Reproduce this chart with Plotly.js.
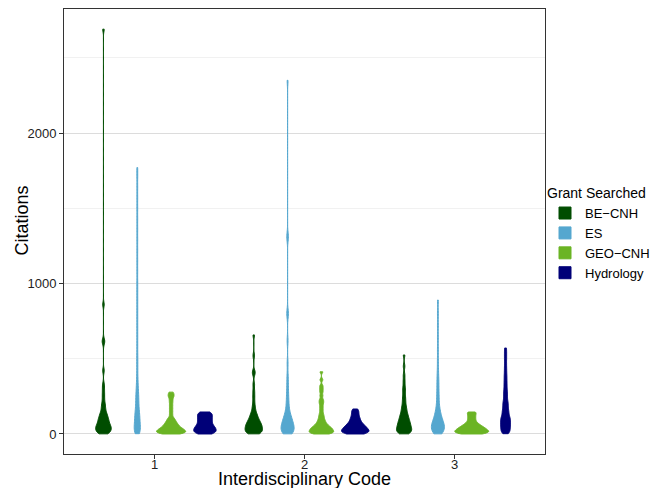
<!DOCTYPE html>
<html>
<head>
<meta charset="utf-8">
<script src="https://cdn.plot.ly/plotly-3.0.1.min.js"></script>
<style>html,body{margin:0;padding:0;background:#fff}#chart{width:667px;height:488px}</style>
</head>
<body>
<div id="chart"></div>
<script>
// ---- data ----
const categories = ['1', '2', '3'];
const grants = ['BE\u2212CNH', 'ES', 'GEO\u2212CNH', 'Hydrology'];
const yTicks = [0, 1000, 2000];
const xTitle = 'Interdisciplinary Code';
const yTitle = 'Citations';

// Citations per paper, Interdisciplinary Code 1
const beCnh1 = [1,5,9,13,17,22,26,30,34,38,42,46,50,54,58,63,69,75,81,87,93,99,104,112,120,128,136,147,162,177,193,212,240,268,298,330,420,605,625,860,2690];
const es1 = [2,8,15,22,29,36,44,54,63,73,83,93,103,113,124,136,147,158,175,192,210,228,246,262,285,310,340,380,430,480,530,590,650,710,770,830,890,950,1010,1080,1150,1220,1290,1360,1430,1500,1570,1640,1710,1770];
const geoCnh1 = [0,2,4,6,8,10,12,14,16,18,20,22,25,27,30,32,35,37,40,43,47,51,55,59,63,68,73,79,85,92,100,110,130,150,170,190,210,228,245,255,266,278];
const hydrology1 = [0,3,7,10,14,18,21,25,29,33,37,41,45,49,53,59,65,71,77,83,89,95,101,107,113,119,125,131,137,142,146];

// Interdisciplinary Code 2
const beCnh2 = [1,4,7,10,13,16,20,24,28,32,36,40,44,48,52,56,59,63,68,73,78,83,88,94,101,108,116,125,135,146,165,185,215,250,285,330,400,415,520,658];
const es2 = [1,4,7,10,13,17,21,25,29,33,37,41,46,51,56,61,66,71,78,84,90,96,102,108,116,127,139,152,170,192,215,240,270,305,345,390,470,620,790,810,1300,1320,2350];
const geoCnh2 = [0,2,5,7,10,12,15,17,20,23,26,29,32,35,38,41,44,48,52,57,62,67,74,82,90,100,112,124,140,160,180,200,215,230,255,280,300,320,360,413];
const hydrology2 = [0,2,4,7,9,11,14,16,18,21,23,26,29,32,35,38,41,44,47,51,55,59,63,67,72,78,85,92,99,106,115,125,135,146,156,166];

// Interdisciplinary Code 3
const beCnh3 = [1,5,9,13,17,21,25,29,33,37,42,47,52,57,62,67,72,78,84,90,96,102,110,118,126,134,145,157,169,182,200,220,240,265,290,315,350,390,450,525];
const es3 = [1,5,9,13,17,21,25,29,33,37,41,45,49,53,57,61,66,71,76,82,88,94,100,106,115,125,135,145,158,172,190,215,240,262,292,322,352,385,430,490,560,640,720,800,890];
const geoCnh3 = [0,1,3,5,7,9,11,13,15,17,19,21,23,25,27,30,32,35,37,40,42,45,48,51,55,59,63,67,73,80,88,97,106,115,124,133,142,146];
const hydrology3 = [2,8,14,20,26,32,38,44,49,55,60,66,71,77,82,88,93,99,105,110,116,124,132,140,148,156,165,175,185,195,205,215,228,242,256,270,284,300,318,336,355,375,395,418,442,468,495,520,545,571];

const seriesByGrant = [
  [beCnh1, beCnh2, beCnh3],
  [es1, es2, es3],
  [geoCnh1, geoCnh2, geoCnh3],
  [hydrology1, hydrology2, hydrology3]
];

// ---- styles ----
const colors = ['#004d00', '#55a7cf', '#6bb424', '#000078'];
const bandwidths = [18, 30, 10, 14];

const traces = grants.map(function (g, gi) {
  const xs = [], ys = [];
  seriesByGrant[gi].forEach(function (vals, ci) {
    vals.forEach(function (v) { xs.push(categories[ci]); ys.push(v); });
  });
  return {
    type: 'violin', name: g, x: xs, y: ys,
    fillcolor: colors[gi],
    line: {color: colors[gi], width: 1},
    points: false,
    box: {visible: false},
    meanline: {visible: false},
    spanmode: 'hard',
    scalemode: 'width',
    scalegroup: 'all',
    bandwidth: bandwidths[gi],
    hoverinfo: 'skip'
  };
});

// category tick labels placed on the x axis scale (category index), just under the tick marks
const tickAnnotations = categories.map(function (c, ci) {
  return {
    text: c, xref: 'x', yref: 'paper', x: ci, y: -0.0067,
    xanchor: 'center', yanchor: 'top', showarrow: false,
    borderpad: 0, borderwidth: 0,
    font: {size: 13, color: '#222222'}
  };
});

const layout = {
  width: 667, height: 488,
  margin: {l: 64, r: 122, t: 9, b: 34, autoexpand: false},
  paper_bgcolor: '#ffffff', plot_bgcolor: '#ffffff',
  font: {family: 'Liberation Sans, Arial, sans-serif', color: '#000000'},
  violinmode: 'group', violingap: 0.1, violingroupgap: 0,
  showlegend: true,
  xaxis: {
    type: 'category', categoryorder: 'array', categoryarray: categories,
    range: [-0.6, 2.6], showgrid: false, zeroline: false,
    showline: true, mirror: true, linecolor: '#333333', linewidth: 1,
    ticks: 'outside', ticklen: 4, tickwidth: 1, tickcolor: '#333333',
    showticklabels: false, automargin: false
  },
  yaxis: {
    range: [-133, 2824], tickmode: 'array', tickvals: yTicks, ticktext: yTicks.map(String),
    showgrid: true, gridcolor: '#dcdcdc', gridwidth: 1, zeroline: false,
    showline: true, mirror: true, linecolor: '#333333', linewidth: 1,
    ticks: 'outside', ticklen: 4, tickwidth: 1, tickcolor: '#333333',
    automargin: false,
    tickfont: {size: 13, color: '#222222'},
    minor: {dtick: 500, tick0: 0, showgrid: true, gridcolor: '#ededed', gridwidth: 0.8, ticks: ''}
  },
  annotations: tickAnnotations.concat([
    {
      text: xTitle, xref: 'paper', yref: 'paper',
      x: 0.5, xanchor: 'center', y: -0.0337, yanchor: 'top',
      borderpad: 0, borderwidth: 0,
      showarrow: false, font: {size: 18, color: '#000'}
    },
    {
      text: yTitle, xref: 'paper', yref: 'paper', textangle: -90,
      x: -0.0884, xanchor: 'center', y: 0.526, yanchor: 'middle',
      showarrow: false, font: {size: 18, color: '#000'}
    }
  ]),
  legend: {
    x: 1.0, xanchor: 'left', y: 0.616, yanchor: 'top',
    bgcolor: 'rgba(0,0,0,0)', tracegroupgap: 0,
    title: {text: 'Grant Searched', font: {size: 14}},
    font: {size: 13}
  }
};

Plotly.newPlot('chart', traces, layout, {displayModeBar: false, staticPlot: true});
</script>
</body>
</html>
